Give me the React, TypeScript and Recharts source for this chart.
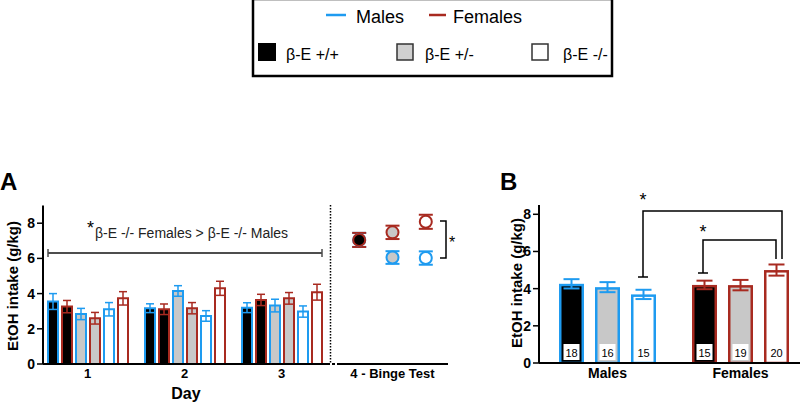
import React from 'react';
import {
  BarChart,
  Bar,
  ErrorBar,
  XAxis,
  YAxis,
  ScatterChart,
  Scatter,
} from 'recharts';

const BLUE = '#1e9bf0';
const RED = '#a82a20';
const GREY = '#c8c8c8';
const FONT = '"Liberation Sans", Arial, sans-serif';

// Panel A - days 1..3
const DAYS = ['1', '2', '3'];
const M_WT = [3.55, 3.17, 3.2];
const M_WT_ERR = [0.45, 0.25, 0.28];
const F_WT = [3.26, 3.11, 3.64];
const F_WT_ERR = [0.35, 0.3, 0.32];
const M_HET = [2.84, 4.15, 3.32];
const M_HET_ERR = [0.32, 0.3, 0.36];
const F_HET = [2.6, 3.17, 3.73];
const F_HET_ERR = [0.33, 0.32, 0.33];
const M_KO = [3.11, 2.73, 2.98];
const M_KO_ERR = [0.38, 0.3, 0.32];
const F_KO = [3.73, 4.3, 4.08];
const F_KO_ERR = [0.38, 0.4, 0.45];

// Panel A - binge test (genotype position 1..3)
const BINGE_POS = [1, 2, 3];
const BINGE_M = [7.05, 6.05, 6.02];
const BINGE_M_ERR = [0.4, 0.36, 0.38];
const BINGE_F = [7.05, 7.48, 8.08];
const BINGE_F_ERR = [0.4, 0.38, 0.4];

// Panel B - binge totals
const SEXES = ['Males', 'Females'];
const B_WT = [4.26, 4.2];
const B_WT_ERR = [0.25, 0.23];
const B_HET = [4.08, 4.19];
const B_HET_ERR = [0.27, 0.28];
const B_KO = [3.69, 5.0];
const B_KO_ERR = [0.25, 0.3];
const B_N_WT = [18, 15];
const B_N_HET = [16, 19];
const B_N_KO = [15, 20];

const dayData = DAYS.map((d, i) => ({
  day: d,
  mwt: M_WT[i], mwtErr: M_WT_ERR[i],
  fwt: F_WT[i], fwtErr: F_WT_ERR[i],
  mhet: M_HET[i], mhetErr: M_HET_ERR[i],
  fhet: F_HET[i], fhetErr: F_HET_ERR[i],
  mko: M_KO[i], mkoErr: M_KO_ERR[i],
  fko: F_KO[i], fkoErr: F_KO_ERR[i],
}));

const bingePt = (vals: number[], errs: number[], i: number) => [
  { x: BINGE_POS[i], y: vals[i], err: errs[i] },
];

const sexData = SEXES.map((s, i) => ({
  sex: s,
  wt: B_WT[i], wtErr: B_WT_ERR[i], wtN: B_N_WT[i],
  het: B_HET[i], hetErr: B_HET_ERR[i], hetN: B_N_HET[i],
  ko: B_KO[i], koErr: B_KO_ERR[i], koN: B_N_KO[i],
}));

const axisTick = { fill: '#000', fontSize: 14, fontWeight: 700, fontFamily: FONT };
const axisLine = { stroke: '#000', strokeWidth: 2 };

const daySeries = [
  { key: 'mwt', fill: '#000', stroke: BLUE },
  { key: 'fwt', fill: '#000', stroke: RED },
  { key: 'mhet', fill: GREY, stroke: BLUE },
  { key: 'fhet', fill: GREY, stroke: RED },
  { key: 'mko', fill: '#fff', stroke: BLUE },
  { key: 'fko', fill: '#fff', stroke: RED },
];

const bingeSeries = [
  { vals: BINGE_M, errs: BINGE_M_ERR, i: 0, fill: '#000', stroke: BLUE },
  { vals: BINGE_F, errs: BINGE_F_ERR, i: 0, fill: '#000', stroke: RED },
  { vals: BINGE_M, errs: BINGE_M_ERR, i: 1, fill: GREY, stroke: BLUE },
  { vals: BINGE_F, errs: BINGE_F_ERR, i: 1, fill: GREY, stroke: RED },
  { vals: BINGE_M, errs: BINGE_M_ERR, i: 2, fill: '#fff', stroke: BLUE },
  { vals: BINGE_F, errs: BINGE_F_ERR, i: 2, fill: '#fff', stroke: RED },
];

// bar + error bar + n label for panel B (colour depends on sex)
const makeSexBar = (key: string, fill: string) => (p: any) => {
  const { x, y, width, height, payload } = p;
  const col = payload.sex === 'Males' ? BLUE : RED;
  const ppu = height / payload[key];
  const e = payload[key + 'Err'] * ppu;
  const cx = x + width / 2;
  const base = y + height;
  return (
    <g>
      <rect x={x + 1.25} y={y + 1.25} width={width - 2.5} height={height - 1.25} fill={fill} stroke={col} strokeWidth={2.5} />
      <line x1={cx} y1={y - e} x2={cx} y2={y + e} stroke={col} strokeWidth={2} />
      <line x1={cx - 8} y1={y - e} x2={cx + 8} y2={y - e} stroke={col} strokeWidth={2} />
      <line x1={cx - 8} y1={y + e} x2={cx + 8} y2={y + e} stroke={col} strokeWidth={2} />
      <rect x={cx - 8} y={base - 19} width={16} height={16} fill="#fff" />
      <text x={cx} y={base - 6.5} textAnchor="middle" fontSize={11} fontFamily={FONT} fill="#000">
        {payload[key + 'N']}
      </text>
    </g>
  );
};

function Overlay() {
  const t = { fontFamily: FONT, fill: '#000' };
  return (
    <svg width={800} height={406} style={{ position: 'absolute', left: 0, top: 0, pointerEvents: 'none' }}>
      {/* legend */}
      <rect x={253} y={-1} width={359} height={77} fill="none" stroke="#000" strokeWidth={2.5} />
      <line x1={326} y1={15} x2={346} y2={15} stroke={BLUE} strokeWidth={2.5} />
      <text x={356} y={23} fontSize={18} {...t}>Males</text>
      <line x1={429} y1={15} x2={446} y2={15} stroke={RED} strokeWidth={2.5} />
      <text x={453} y={23} fontSize={18} {...t}>Females</text>
      <rect x={258} y={43} width={18} height={18} fill="#000" />
      <text x={286} y={60} fontSize={16} {...t}>β-E +/+</text>
      <rect x={397} y={44} width={16} height={16} fill="#d0d0d0" stroke="#333" strokeWidth={1.5} />
      <text x={425} y={60} fontSize={16} {...t}>β-E +/-</text>
      <rect x={532} y={44} width={16} height={16} fill="#fff" stroke="#333" strokeWidth={1.5} />
      <text x={563} y={60} fontSize={16} {...t}>β-E -/-</text>

      {/* panel letters */}
      <text x={0} y={190} fontSize={24} fontWeight={700} {...t}>A</text>
      <text x={500} y={190} fontSize={24} fontWeight={700} {...t}>B</text>

      {/* axis titles */}
      <text transform="translate(18,286) rotate(-90)" textAnchor="middle" fontSize={15} fontWeight={700} {...t}>EtOH intake (g/kg)</text>
      <text transform="translate(522,283) rotate(-90)" textAnchor="middle" fontSize={15} fontWeight={700} {...t}>EtOH intake (g/kg)</text>
      <text x={186} y={399} textAnchor="middle" fontSize={16} fontWeight={700} {...t}>Day</text>

      {/* panel A annotation */}
      <text x={87} y={234} fontSize={18} {...t}>*</text>
      <text x={95} y={238} fontSize={14} fill="#222" fontFamily={FONT}>β-E -/- Females &gt; β-E -/- Males</text>
      <line x1={48} y1={253} x2={322} y2={253} stroke="#4d4d4d" strokeWidth={2} />
      <line x1={48} y1={249} x2={48} y2={257} stroke="#4d4d4d" strokeWidth={1.5} />
      <line x1={322} y1={249} x2={322} y2={257} stroke="#4d4d4d" strokeWidth={1.5} />

      {/* separator */}
      <line x1={330.5} y1={205} x2={330.5} y2={364} stroke="#000" strokeWidth={1.5} strokeDasharray="1.5 1.5" />
      <line x1={332} y1={364} x2={335} y2={364} stroke="#000" strokeWidth={2} />

      {/* binge bracket */}
      <polyline points="440,221 446,221 446,258 440,258" fill="none" stroke="#000" strokeWidth={1.5} />
      <text x={449} y={248} fontSize={16} {...t}>*</text>

      {/* panel B brackets */}
      <polyline points="643,277 643,211 782,211 782,259" fill="none" stroke="#000" strokeWidth={1.5} />
      <line x1={638} y1={277} x2={648} y2={277} stroke="#000" strokeWidth={1.5} />
      <text x={643} y={206} textAnchor="middle" fontSize={18} {...t}>*</text>
      <polyline points="703,273 703,240 776,240 776,259" fill="none" stroke="#000" strokeWidth={1.5} />
      <line x1={698} y1={273} x2={708} y2={273} stroke="#000" strokeWidth={1.5} />
      <text x={703} y={238} textAnchor="middle" fontSize={18} {...t}>*</text>
    </svg>
  );
}

export default function App() {
  return (
    <div
      style={{
        position: 'absolute',
        left: 0,
        top: 0,
        width: 800,
        height: 406,
        overflow: 'hidden',
        background: '#fff',
        fontFamily: FONT,
      }}
    >
      {/* Panel A: days */}
      <div style={{ position: 'absolute', left: 0, top: 0 }}>
        <BarChart
          width={340}
          height={406}
          data={dayData}
          margin={{ top: 205.6, right: 10, bottom: 12, left: 0 }}
          barGap={4}
        >
          <XAxis
            dataKey="day"
            padding={{ left: -4, right: 0 }}
            height={30}
            tickLine={false}
            tickSize={3}
            axisLine={axisLine}
            tick={{ ...axisTick, fontSize: 13 }}
          />
          <YAxis
            width={43}
            domain={[0, 9]}
            ticks={[0, 2, 4, 6, 8]}
            allowDataOverflow
            tick={axisTick}
            tickSize={6}
            tickLine={{ stroke: '#000', strokeWidth: 1.5 }}
            axisLine={axisLine}
          />
          {daySeries.map((s) => (
            <Bar
              key={s.key}
              dataKey={s.key}
              fill={s.fill}
              stroke={s.stroke}
              strokeWidth={2}
              barSize={10}
              isAnimationActive={false}
            >
              <ErrorBar dataKey={s.key + 'Err'} width={4} stroke={s.stroke} strokeWidth={1.5} direction="y" />
            </Bar>
          ))}
        </BarChart>
      </div>

      {/* Panel A: binge test */}
      <div style={{ position: 'absolute', left: 330, top: 0 }}>
        <ScatterChart
          width={130}
          height={406}
          margin={{ top: 205.6, right: 12, bottom: 12, left: 7 }}
        >
          <XAxis
            type="number"
            dataKey="x"
            domain={[1 / 3, 11 / 3]}
            ticks={[2]}
            tickFormatter={() => '4 - Binge Test'}
            height={30}
            tickLine={false}
            tickSize={3}
            axisLine={axisLine}
            tick={{ ...axisTick, fontSize: 13 }}
          />
          <YAxis type="number" dataKey="y" domain={[0, 9]} hide />
          {bingeSeries.map((s, k) => (
            <Scatter
              key={k}
              data={bingePt(s.vals, s.errs, s.i)}
              isAnimationActive={false}
              shape={(p: any) => (
                <circle cx={p.cx} cy={p.cy} r={6} fill={s.fill} stroke={s.stroke} strokeWidth={2} />
              )}
            >
              <ErrorBar dataKey="err" width={7} stroke={s.stroke} strokeWidth={2} direction="y" />
            </Scatter>
          ))}
        </ScatterChart>
      </div>

      {/* Panel B */}
      <div style={{ position: 'absolute', left: 490, top: 0 }}>
        <BarChart
          width={320}
          height={406}
          data={sexData}
          margin={{ top: 205, right: 3, bottom: 13, left: 0 }}
          barGap={11}
        >
          <XAxis
            dataKey="sex"
            padding={{ left: 2, right: 0 }}
            height={30}
            tickLine={false}
            tickSize={3}
            axisLine={axisLine}
            tick={axisTick}
          />
          <YAxis
            width={49}
            domain={[0, 8.5]}
            ticks={[0, 2, 4, 6, 8]}
            allowDataOverflow
            tick={axisTick}
            tickSize={6}
            tickLine={{ stroke: '#000', strokeWidth: 1.5 }}
            axisLine={axisLine}
          />
          <Bar dataKey="wt" barSize={25} isAnimationActive={false} shape={makeSexBar('wt', '#000')} />
          <Bar dataKey="het" barSize={25} isAnimationActive={false} shape={makeSexBar('het', GREY)} />
          <Bar dataKey="ko" barSize={25} isAnimationActive={false} shape={makeSexBar('ko', '#fff')} />
        </BarChart>
      </div>

      <Overlay />
    </div>
  );
}
